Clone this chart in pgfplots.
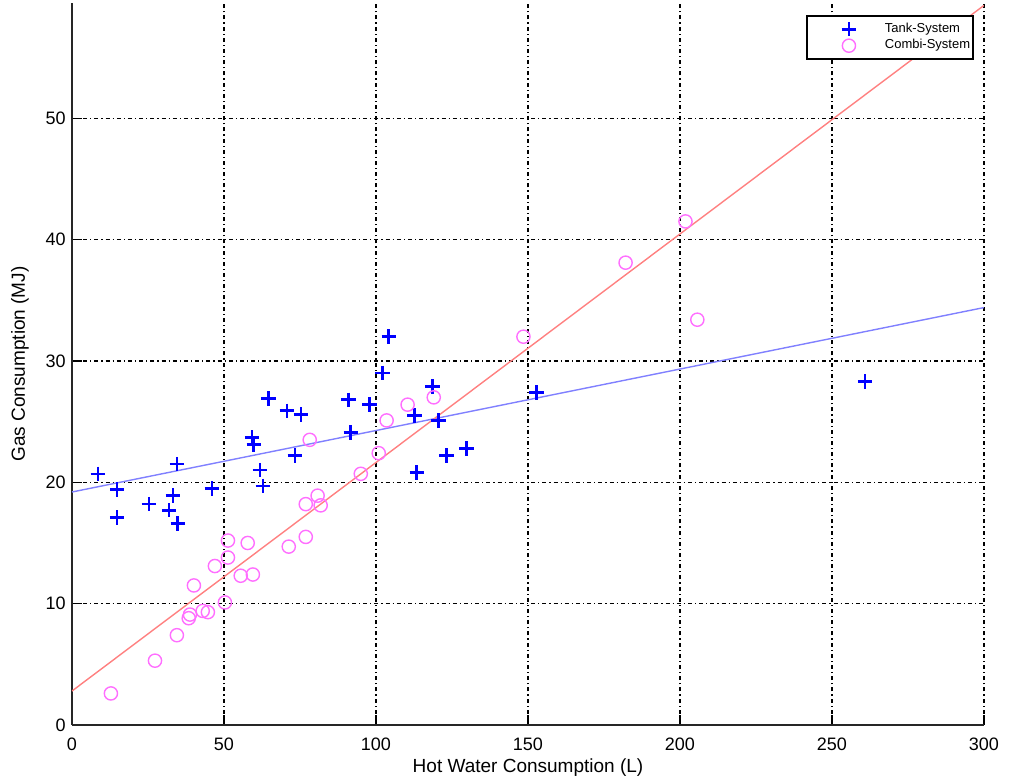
\documentclass[border=0pt]{standalone}
\usepackage{fontspec}
\setmainfont{Liberation Sans}
\usepackage{pgfplots}
\pgfplotsset{compat=1.18}
\definecolor{tankblue}{rgb}{0,0,1}
\definecolor{combimag}{RGB}{255,110,255}
\definecolor{lineblue}{RGB}{128,128,255}
\definecolor{linered}{RGB}{255,128,128}
\pgfplotsset{myleg/.style={legend image code/.code={\path[draw=none,fill=none] (0pt,-2pt) rectangle (37.5pt,2pt); \draw[mark repeat=2,mark phase=2,##1] plot coordinates {(0pt,0pt)(21pt,0pt)(37.5pt,0pt)};}}}
\begin{document}
\begin{tikzpicture}
\begin{axis}[
  scale only axis,
  width=456pt, height=361pt,
  xmin=0, xmax=300, ymin=0, ymax=59.5,
  axis x line*=bottom, axis y line*=left,
  axis line style={-, line width=0.75pt, black!85},
  xtick={0,50,...,300}, ytick={0,10,...,50},
  tick align=inside, major tick length=5pt,
  tick style={line width=0.75pt, black},
  grid=major,
  major grid style={black, line width=0.7pt, dash pattern=on 2pt off 1.5pt on 0.6pt off 1.5pt},
  /pgf/number format/assume math mode=true,
  ticklabel style={font=\fontsize{9}{10}\selectfont, inner sep=0pt},
  x tick label style={anchor=north, yshift=-6.2pt},
  y tick label style={anchor=east, xshift=-3pt},
  xlabel={Hot Water Consumption (L)},
  ylabel={Gas Consumption (MJ)},
  label style={font=\fontsize{9.5}{11}\selectfont},
  x label style={at={(axis description cs:0.5,-0.0596)}, anchor=center},
  y label style={at={(axis description cs:-0.057,0.5)}, anchor=center},
  legend style={at={(axis description cs:0.989,0.983)}, anchor=north east,
    draw=black, line width=0.8pt, font=\fontsize{6.5}{7}\selectfont,
    inner xsep=0pt, inner ysep=2pt, row sep=-1pt,
    nodes={inner sep=1.5pt}},
  legend cell align=left,
]
\addplot[only marks, mark=+, mark size=3.6pt, line width=1.3pt, color=tankblue, myleg] coordinates {
(8.5,20.7)(14.8,19.4)(14.8,17.1)(25.3,18.2)(33.2,18.9)(31.9,17.7)(34.8,16.6)(34.5,21.5)
(46.0,19.5)(59.2,23.7)(59.8,23.1)(61.8,21.0)(62.8,19.7)(64.7,26.9)(70.7,25.9)(75.3,25.6)
(73.3,22.2)(91.0,26.8)(91.7,24.1)(97.9,26.4)(102.2,29.0)(104.2,32.0)(118.6,27.9)(112.7,25.5)
(120.6,25.1)(113.4,20.8)(123.2,22.2)(129.8,22.8)(152.8,27.4)(260.9,28.3)
};
\addlegendentry{Tank-System}
\addplot[only marks, mark=o, mark size=3.3pt, line width=0.7pt, color=combimag, myleg] coordinates {
(12.8,2.6)(27.3,5.3)(34.5,7.4)(38.4,8.8)(38.8,9.1)(43.0,9.4)(44.7,9.3)(40.1,11.5)
(50.3,10.1)(47.0,13.1)(51.3,13.8)(51.3,15.2)(55.5,12.3)(59.5,12.4)(57.8,15.0)(71.3,14.7)
(76.9,15.5)(76.9,18.2)(81.8,18.1)(80.8,18.9)(78.2,23.5)(95.0,20.7)(100.9,22.4)(103.5,25.1)
(110.4,26.4)(119.0,27.0)(148.5,32.0)(182.1,38.1)(201.8,41.5)(205.7,33.4)
};
\addlegendentry{Combi-System}
\addplot[lineblue, line width=0.7pt, forget plot] coordinates {(0,19.2)(300,34.4)};
\addplot[linered, line width=0.7pt, forget plot] coordinates {(0,2.8)(300,59.3)};
\end{axis}
\path (current axis.south west) ++(-36pt,-28pt) rectangle ++(506.5pt,390.5pt);
\end{tikzpicture}
\end{document}
